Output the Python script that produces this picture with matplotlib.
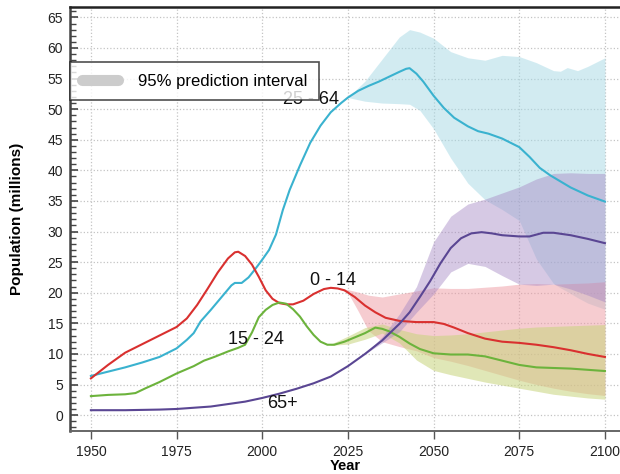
import matplotlib
matplotlib.use("Agg")
import matplotlib.pyplot as plt
from matplotlib.lines import Line2D
from matplotlib.ticker import MultipleLocator

plt.rcParams['font.family'] = ['Liberation Sans', 'DejaVu Sans']

# median projections by age group (millions)
years_0_14 = [1950, 1955, 1960, 1965, 1970, 1975, 1978, 1981, 1984, 1987, 1990, 1992, 1993,
              1995, 1997, 1999, 2001, 2003, 2005, 2007, 2009, 2012, 2015, 2018, 2020, 2022,
              2024, 2027, 2030, 2033, 2036, 2040, 2045, 2050, 2053, 2056, 2060, 2065, 2070,
              2075, 2080, 2085, 2090, 2095, 2100]
pop_0_14 = [6.0, 8.2, 10.2, 11.6, 13.0, 14.4, 15.8, 18.0, 20.6, 23.3, 25.6, 26.6, 26.7,
            26.0, 24.6, 22.6, 20.4, 19.0, 18.3, 18.1, 18.1, 18.7, 19.8, 20.6, 20.8, 20.7,
            20.4, 19.3, 17.9, 16.8, 15.9, 15.4, 15.2, 15.2, 14.9, 14.3, 13.4, 12.5, 12.0,
            11.8, 11.5, 11.1, 10.6, 10.0, 9.5]

years_15_24 = [1950, 1955, 1960, 1963, 1966, 1970, 1975, 1980, 1983, 1986, 1990, 1993, 1995,
               1997, 1999, 2001, 2003, 2005, 2007, 2009, 2011, 2013, 2015, 2017, 2019, 2021,
               2024, 2027, 2030, 2033, 2035, 2037, 2040, 2043, 2046, 2050, 2055, 2060, 2065,
               2070, 2075, 2080, 2085, 2090, 2095, 2100]
pop_15_24 = [3.1, 3.3, 3.4, 3.6, 4.4, 5.4, 6.8, 8.0, 8.9, 9.5, 10.4, 11.0, 11.5,
             13.5, 16.0, 17.2, 18.0, 18.4, 18.2, 17.3, 16.1, 14.5, 13.1, 12.0, 11.5, 11.5,
             12.0, 12.7, 13.4, 14.3, 14.1, 13.7, 12.8, 11.7, 10.8, 10.1, 9.9, 9.9, 9.6,
             8.9, 8.2, 7.8, 7.7, 7.6, 7.4, 7.2]

years_25_64 = [1950, 1955, 1960, 1965, 1970, 1975, 1978, 1980, 1982, 1985, 1988, 1991, 1992,
               1994, 1996, 1998, 2000, 2002, 2004, 2006, 2008, 2011, 2014, 2017, 2020, 2023,
               2025, 2028, 2031, 2034, 2037, 2040, 2042, 2043, 2045, 2047, 2050, 2053, 2056,
               2060, 2063, 2066, 2070, 2075, 2078, 2081, 2084, 2087, 2090, 2095, 2100]
pop_25_64 = [6.4, 7.1, 7.8, 8.6, 9.5, 10.9, 12.3, 13.4, 15.3, 17.2, 19.2, 21.2, 21.6,
             21.6, 22.5, 23.9, 25.4, 27.0, 29.5, 33.5, 36.8, 40.8, 44.5, 47.3, 49.5, 51.0,
             51.9, 53.0, 53.8, 54.5, 55.3, 56.1, 56.6, 56.7, 55.8, 54.5, 52.2, 50.2, 48.6,
             47.2, 46.4, 46.0, 45.2, 43.8, 42.2, 40.4, 39.2, 38.2, 37.2, 35.9, 34.9]

years_65 = [1950, 1960, 1970, 1975, 1980, 1985, 1990, 1995, 2000, 2005, 2010, 2015, 2020,
            2025, 2030, 2035, 2040, 2043, 2046, 2049, 2052, 2055, 2058, 2061, 2064, 2067,
            2070, 2075, 2078, 2082, 2085, 2090, 2095, 2100]
pop_65 = [0.8, 0.8, 0.9, 1.0, 1.2, 1.4, 1.8, 2.2, 2.8, 3.5, 4.3, 5.2, 6.3,
          8.0, 10.0, 12.2, 14.9, 16.8, 19.3, 21.9, 24.8, 27.3, 28.9, 29.7, 29.9, 29.7,
          29.4, 29.2, 29.2, 29.8, 29.8, 29.4, 28.8, 28.1]

# 95% prediction intervals
band_years_25_64 = [2025, 2030, 2035, 2040, 2043, 2046, 2050, 2055, 2060, 2065, 2070, 2075,
                    2080, 2085, 2087, 2089, 2092, 2095, 2100]
lo_25_64 = [51.9, 51.3, 51.0, 50.9, 50.8, 49.8, 46.8, 42.0, 37.9, 35.2, 33.6, 31.8,
            25.5, 21.5, 20.8, 20.2, 19.2, 18.3, 17.3]
hi_25_64 = [51.9, 54.6, 58.2, 61.8, 63.0, 62.6, 61.6, 59.4, 58.4, 58.0, 58.8, 58.6,
            57.6, 56.3, 56.2, 56.8, 56.3, 57.0, 58.4]

band_years_0_14 = [2022, 2025, 2028, 2031, 2035, 2040, 2045, 2050, 2055, 2060, 2065, 2070,
                   2075, 2080, 2085, 2090, 2095, 2100]
lo_0_14 = [20.7, 20.0, 17.0, 13.8, 12.0, 11.2, 10.5, 9.4, 8.8, 8.1, 7.3, 6.5,
           5.7, 5.0, 4.4, 3.9, 3.5, 3.2]
hi_0_14 = [20.7, 20.5, 20.1, 19.6, 19.3, 19.8, 20.3, 20.8, 20.7, 20.7, 20.9, 21.1,
           21.4, 21.5, 21.4, 21.5, 21.6, 21.8]

band_years_15_24 = [2020, 2025, 2030, 2035, 2040, 2045, 2050, 2055, 2060, 2065, 2070, 2075,
                    2080, 2085, 2090, 2095, 2100]
lo_15_24 = [11.4, 11.6, 12.4, 13.4, 11.8, 9.0, 7.3, 6.6, 6.0, 5.4, 4.9, 4.4,
            3.9, 3.4, 3.1, 2.8, 2.6]
hi_15_24 = [11.6, 12.9, 14.3, 14.9, 14.0, 13.3, 13.0, 13.1, 13.3, 13.6, 13.9, 14.2,
            14.4, 14.5, 14.6, 14.7, 14.8]

band_years_65 = [2030, 2035, 2040, 2045, 2050, 2055, 2060, 2065, 2070, 2075, 2080, 2085,
                 2090, 2095, 2100]
lo_65 = [10.0, 11.8, 13.6, 16.8, 19.8, 23.4, 24.8, 24.3, 22.8, 21.4, 21.2, 21.4,
         20.6, 19.6, 18.5]
hi_65 = [10.0, 12.8, 16.5, 21.0, 28.3, 32.5, 34.5, 35.3, 36.3, 37.3, 38.6, 39.5,
         39.6, 39.5, 39.5]

fig = plt.figure(figsize=(6.2, 4.74), dpi=100)
ax = fig.add_axes([70 / 620, 1 - 431 / 474, 1 - 70 / 620, 424 / 474])

# prediction bands
ax.fill_between(band_years_25_64, lo_25_64, hi_25_64, color='#a6d9e5', alpha=0.5, lw=0)
ax.fill_between(band_years_0_14, lo_0_14, hi_0_14, color='#ee9aa3', alpha=0.5, lw=0)
ax.fill_between(band_years_15_24, lo_15_24, hi_15_24, color='#c8d47c', alpha=0.55, lw=0)
ax.fill_between(band_years_65, lo_65, hi_65, color='#a688c4', alpha=0.45, lw=0)

# median lines
ax.plot(years_25_64, pop_25_64, color='#3ab2cf', lw=1.5)
ax.plot(years_0_14, pop_0_14, color='#d9302f', lw=1.5)
ax.plot(years_15_24, pop_15_24, color='#6cb33c', lw=1.5)
ax.plot(years_65, pop_65, color='#5a4693', lw=1.5)

ax.text(2014.3, 51.5, '25 - 64', fontsize=13, ha='center', va='center', color='#111')
ax.text(2020.6, 22.0, '0 - 14', fontsize=13, ha='center', va='center', color='#111')
ax.text(1998.1, 12.3, '15 - 24', fontsize=13, ha='center', va='center', color='#111')
ax.text(2006.0, 1.9, '65+', fontsize=13, ha='center', va='center', color='#111')

ax.set_xlim(1943.9, 2104.4)
ax.set_ylim(-2.6, 66.7)
ax.set_xticks([1950, 1975, 2000, 2025, 2050, 2075, 2100])
ax.yaxis.set_major_locator(MultipleLocator(5))
ax.yaxis.set_minor_locator(MultipleLocator(1))
ax.tick_params(axis='y', which='major', direction='in', length=6, width=1.2,
               color='#444', labelsize=10, labelcolor='#222', pad=5)
ax.tick_params(axis='y', which='minor', direction='in', length=4, width=1.0, color='#444')
ax.tick_params(axis='x', which='major', direction='out', length=6, width=1.0,
               color='#555', labelsize=10, labelcolor='#222', pad=4)
ax.grid(True, which='major', linestyle=':', color='#c4c4c4', lw=0.9)
ax.set_axisbelow(True)

ax.spines['right'].set_visible(False)
ax.spines['top'].set_linewidth(1.8)
ax.spines['top'].set_color('#222')
ax.spines['left'].set_linewidth(1.8)
ax.spines['left'].set_color('#444')
ax.spines['bottom'].set_linewidth(1.4)
ax.spines['bottom'].set_color('#666')

ax.set_ylabel('Population (millions)', fontsize=11, fontweight='bold', labelpad=17)
ax.set_xlabel('Year', fontsize=10.5, fontweight='bold', labelpad=0)

handle = Line2D([], [], color='#cccccc', lw=8, solid_capstyle='round')
leg = ax.legend([handle], ['95% prediction interval'], loc='upper left',
                bbox_to_anchor=(0.0, (431 - 62) / 424), fontsize=12, frameon=True,
                fancybox=False, handlelength=2.2, handletextpad=1.2,
                borderpad=0.7, borderaxespad=0)
leg.get_frame().set_edgecolor('#222')
leg.get_frame().set_linewidth(1.2)

fig.savefig('out.png', dpi=100)
